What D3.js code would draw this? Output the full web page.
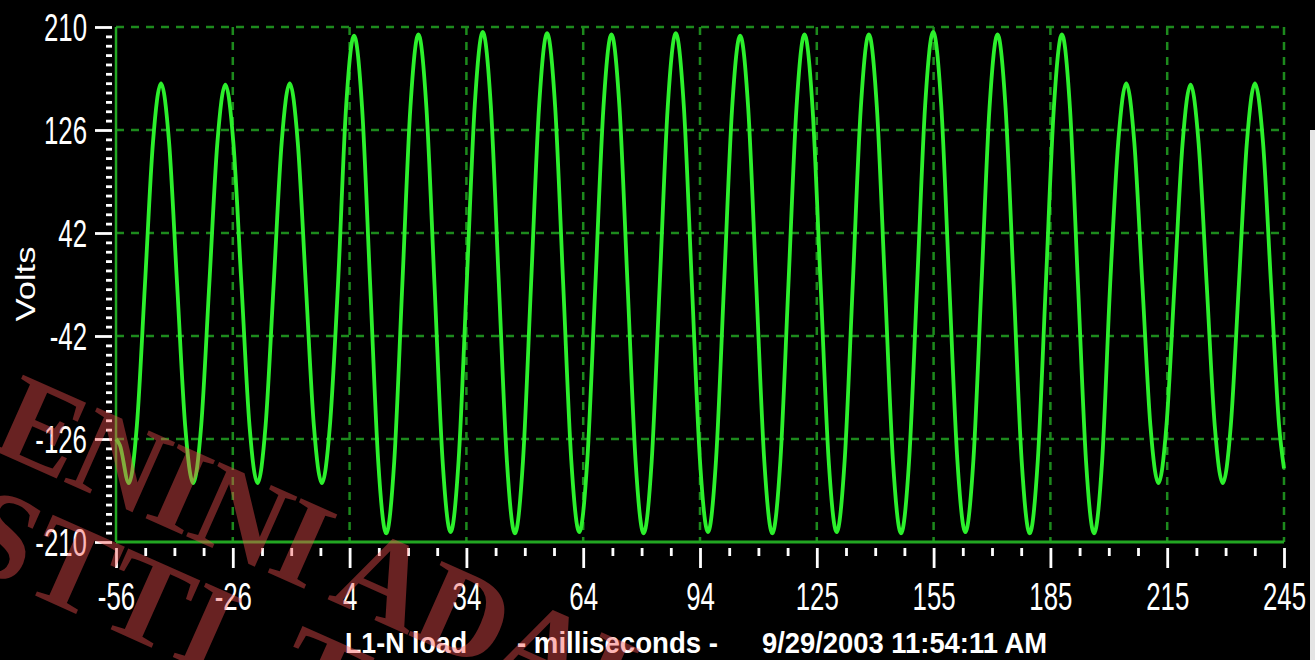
<!DOCTYPE html>
<html>
<head>
<meta charset="utf-8">
<script src="https://cdn.jsdelivr.net/npm/d3@7"></script>
<style>
  html, body { margin: 0; padding: 0; background: #000; }
  svg { display: block; }
</style>
</head>
<body>
<svg></svg>
<script>
// waveform samples (ms, volts)
var timeMs = [
  -56, -55,
  -52.69, -50.62, -48.54, -46.47, -44.40, -42.32, -40.25, -38.18,
  -36.11, -34.04, -31.96, -29.89, -27.82, -25.74, -23.67, -21.60,
  -19.52, -17.45, -15.37, -13.30, -11.23, -9.16, -7.08, -5.01,
  -2.94, -0.87, 1.21, 3.28, 5.35, 7.42, 9.50, 11.57,
  13.64, 15.71, 17.79, 19.86, 21.93, 24.00, 26.08, 28.15,
  30.23, 32.30, 34.37, 36.45, 38.52, 40.59, 42.67, 44.74,
  46.81, 48.88, 50.96, 53.03, 55.10, 57.17, 59.25, 61.32,
  63.39, 65.46, 67.54, 69.61, 71.68, 73.76, 75.83, 77.90,
  79.97, 82.05, 84.12, 86.19, 88.26, 90.34, 92.41, 94.48,
  96.56, 98.63, 100.70, 102.78, 104.85, 106.92, 108.99, 111.07,
  113.14, 115.21, 117.29, 119.36, 121.43, 123.50, 125.58, 127.65,
  129.72, 131.79, 133.87, 135.94, 138.01, 140.09, 142.16, 144.23,
  146.31, 148.38, 150.45, 152.52, 154.60, 156.67, 158.74, 160.82,
  162.89, 164.96, 167.04, 169.11, 171.18, 173.25, 175.33, 177.40,
  179.47, 181.54, 183.62, 185.69, 187.76, 189.84, 191.91, 193.98,
  196.06, 198.13, 200.20, 202.28, 204.35, 206.42, 208.50, 210.57,
  212.64, 214.71, 216.79, 218.86, 220.93, 223.00, 225.08, 227.15,
  229.22, 231.29, 233.37, 235.44, 237.51, 239.59, 241.66, 243.73,
  245
];

var volts = [
  -126, -131,
  -162, -115, 0, 116, 164, 116, 0, -115,
  -162, -115, 0, 115, 163, 115, 0, -115,
  -162, -115, 0, 116, 164, 116, 0, -115,
  -162, -115, 0, 144, 203, 144, 0, -144,
  -203, -144, 0, 144, 204, 144, 0, -143,
  -202, -143, 0, 146, 206, 146, 0, -144,
  -203, -144, 0, 145, 205, 145, 0, -143,
  -202, -143, 0, 144, 204, 144, 0, -144,
  -203, -144, 0, 145, 205, 145, 0, -143,
  -202, -143, 0, 144, 203, 144, 0, -144,
  -203, -144, 0, 144, 204, 144, 0, -143,
  -202, -143, 0, 144, 204, 144, 0, -144,
  -203, -144, 0, 146, 206, 146, 0, -143,
  -202, -143, 0, 144, 204, 144, 0, -144,
  -203, -144, 0, 144, 204, 144, 0, -144,
  -203, -144, 0, 116, 164, 116, 0, -115,
  -162, -115, 0, 115, 163, 115, 0, -115,
  -162, -115, 0, 116, 164, 116, 0, -115,
  -150
];

var xTickValues = [-56, -25.9, 4.2, 34.3, 64.4, 94.5, 124.6, 154.7, 184.8, 214.9, 245];
var xTickLabels = ["-56", "-26", "4", "34", "64", "94", "125", "155", "185", "215", "245"];
var yTickValues = [210, 126, 42, -42, -126, -210];
var yTickLabels = ["210", "126", "42", "-42", "-126", "-210"];

var titleParts = ["L1-N load", "- milliseconds -", "9/29/2003 11:54:11 AM"];
var watermarkLines = ["ENINI ADALAR", "STTI. TIC"];

var width = 1315, height = 660;

var svg = d3.select("svg")
    .attr("width", width)
    .attr("height", height);

svg.append("rect")
    .attr("width", width)
    .attr("height", height)
    .attr("fill", "#000");

// light strip on the right border of the screenshot
svg.append("rect")
    .attr("x", 1310).attr("y", 130)
    .attr("width", 5).attr("height", 530)
    .attr("fill", "#e4e4e4");

var x = d3.scaleLinear()
    .domain([-56, 245])
    .range([116, 1284]);

var y = d3.scaleLinear()
    .domain([-210, 210])
    .range([542, 27]);

var gridColor = "#1d8a1d";

// grid
svg.append("g")
  .selectAll("line")
  .data(yTickValues.filter(function(d) { return d > -210; }))
  .join("line")
    .attr("x1", x(-56)).attr("x2", x(245))
    .attr("y1", function(d) { return y(d); })
    .attr("y2", function(d) { return y(d); })
    .attr("stroke", gridColor)
    .attr("stroke-width", 2.5)
    .attr("stroke-dasharray", "8,7");

svg.append("g")
  .selectAll("line")
  .data(xTickValues.slice(1))
  .join("line")
    .attr("x1", function(d) { return x(d); })
    .attr("x2", function(d) { return x(d); })
    .attr("y1", y(210)).attr("y2", y(-210))
    .attr("stroke", gridColor)
    .attr("stroke-width", 2.5)
    .attr("stroke-dasharray", "8,7");

// solid axis lines
svg.append("line")
    .attr("x1", x(-56)).attr("x2", x(-56))
    .attr("y1", y(210)).attr("y2", y(-210))
    .attr("stroke", "#22a622").attr("stroke-width", 2.5);
svg.append("line")
    .attr("x1", x(-56)).attr("x2", x(245))
    .attr("y1", y(-210)).attr("y2", y(-210))
    .attr("stroke", "#22a622").attr("stroke-width", 3);

// waveform
var line = d3.line()
    .x(function(d, i) { return x(timeMs[i]); })
    .y(function(d) { return y(d); })
    .curve(d3.curveMonotoneX);

svg.append("path")
    .datum(volts)
    .attr("fill", "none")
    .attr("stroke", "#2cf02c")
    .attr("stroke-width", 3.8)
    .attr("stroke-linejoin", "round")
    .attr("d", line);

// x axis ticks
var xMinor = [];
for (var i = 0; i < xTickValues.length - 1; i++) {
  var a = xTickValues[i], b = xTickValues[i + 1];
  xMinor.push(a + (b - a) / 4, a + (b - a) / 2, a + 3 * (b - a) / 4);
}

var gxMinor = svg.append("g")
    .attr("transform", "translate(0,548)")
    .call(d3.axisBottom(x).tickValues(xMinor).tickSize(8).tickFormat(""));

var gx = svg.append("g")
    .attr("transform", "translate(0,548)")
    .call(d3.axisBottom(x)
      .tickValues(xTickValues)
      .tickSize(20)
      .tickPadding(15)
      .tickFormat(function(d, i) { return xTickLabels[i]; }));

// y axis ticks
var yMinor = [];
for (var j = 0; j < yTickValues.length - 1; j++) {
  var c = yTickValues[j], e = yTickValues[j + 1];
  for (var k = 1; k < 11; k++) yMinor.push(c + (e - c) * k / 11);
}

var gyMinor = svg.append("g")
    .attr("transform", "translate(112,0)")
    .call(d3.axisLeft(y).tickValues(yMinor).tickSize(6).tickFormat(""));

var gy = svg.append("g")
    .attr("transform", "translate(112,0)")
    .call(d3.axisLeft(y)
      .tickValues(yTickValues)
      .tickSize(17)
      .tickFormat(function(d, i) { return yTickLabels[i]; }));

[gx, gxMinor, gy, gyMinor].forEach(function(g) {
  g.select(".domain").remove();
  g.selectAll(".tick line").attr("stroke", "#fff").attr("stroke-width", 2.8);
});

var sx = 0.68;
gx.selectAll(".tick text")
    .attr("fill", "#fff")
    .attr("font-family", "'Liberation Sans', Arial, sans-serif")
    .attr("font-size", 38)
    .attr("transform", "scale(" + sx + ",1)");

gy.selectAll(".tick text")
    .attr("fill", "#fff")
    .attr("font-family", "'Liberation Sans', Arial, sans-serif")
    .attr("font-size", 38)
    .attr("x", -25 / sx)
    .attr("dy", "0.36em")
    .attr("transform", "scale(" + sx + ",1)");

// axis title
svg.append("text")
    .attr("transform", "translate(35,284) rotate(-90)")
    .attr("text-anchor", "middle")
    .attr("fill", "#fff")
    .attr("font-family", "'Liberation Sans', Arial, sans-serif")
    .attr("font-size", 27)
    .attr("textLength", 75)
    .attr("lengthAdjust", "spacingAndGlyphs")
    .text("Volts");

// bottom caption
var titleX = [345, 517, 762];
var titleLen = [122, 201, 285];
svg.append("g")
  .selectAll("text")
  .data(titleParts)
  .join("text")
    .attr("x", function(d, i) { return titleX[i]; })
    .attr("y", 653)
    .attr("fill", "#fff")
    .attr("font-family", "'Liberation Sans', Arial, sans-serif")
    .attr("font-weight", "bold")
    .attr("font-size", 30)
    .attr("textLength", function(d, i) { return titleLen[i]; })
    .attr("lengthAdjust", "spacingAndGlyphs")
    .text(function(d) { return d; });

// watermark
var wm = svg.append("g")
    .attr("fill", "#f85050")
    .attr("fill-opacity", 0.42)
    .attr("font-family", "'Liberation Serif', 'Times New Roman', serif")
    .attr("font-weight", "bold")
    .attr("font-size", 124);

wm.append("text")
    .attr("transform", "translate(-12,448) rotate(24)")
    .attr("letter-spacing", -2)
    .text(watermarkLines[0]);

wm.append("text")
    .attr("transform", "translate(-45,560) rotate(24)")
    .text(watermarkLines[1]);
</script>
</body>
</html>
